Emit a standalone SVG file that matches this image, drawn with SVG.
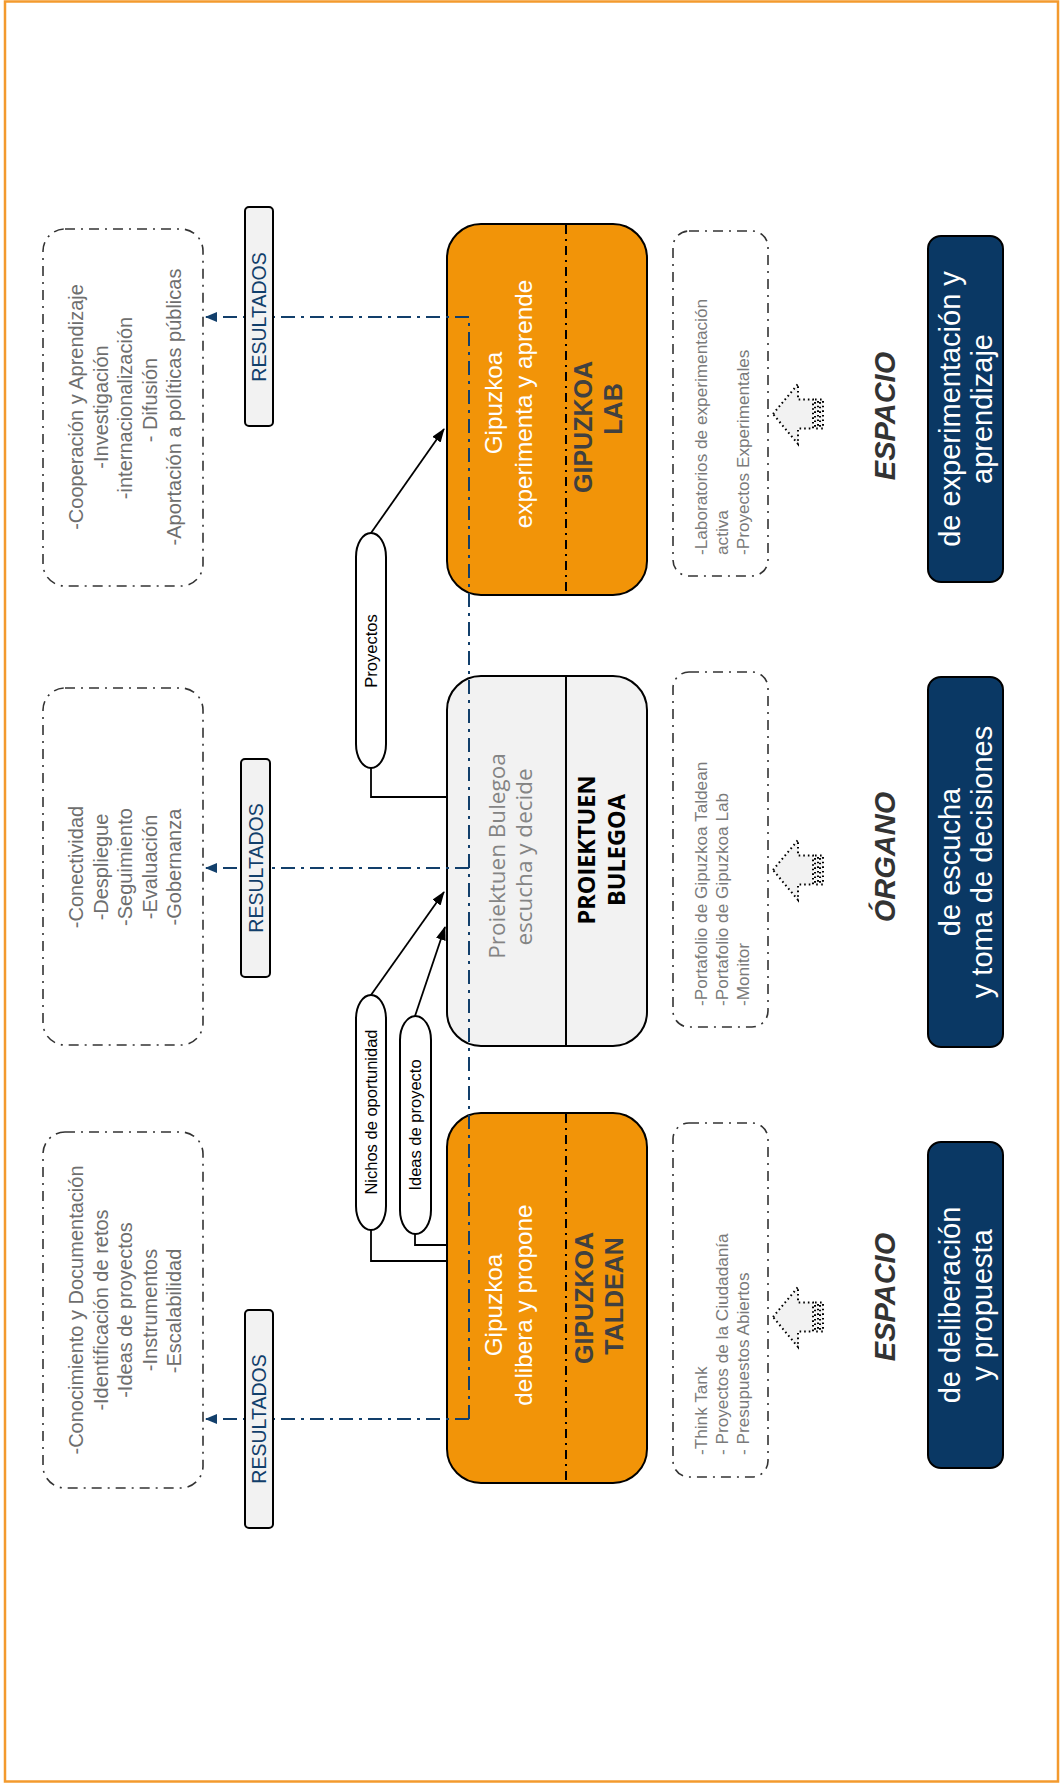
<svg xmlns="http://www.w3.org/2000/svg" width="1061" height="1786" viewBox="0 0 1061 1786">
<defs>
<marker id="ah" markerUnits="userSpaceOnUse" markerWidth="14" markerHeight="10" refX="13" refY="5" orient="auto"><path d="M0,0 L14,5 L0,10 z" fill="#000"/></marker>
<marker id="ahb" markerUnits="userSpaceOnUse" markerWidth="12" markerHeight="10" refX="11" refY="5" orient="auto"><path d="M0,0 L12,5 L0,10 z" fill="#123f6b"/></marker>
<style>
.t{font-family:"Liberation Sans",Arial,sans-serif}
.o{font-family:"Open Sans","Liberation Sans",sans-serif}
.main{fill:#f29408;stroke:#000;stroke-width:2}
.grey{fill:#f2f2f2;stroke:#000;stroke-width:2}
.dd{fill:none;stroke:#333;stroke-width:1.6;stroke-dasharray:10 6 2 6}
.div{stroke:#000;stroke-width:2;stroke-dasharray:9 5 2 5}
.res{fill:#f2f2f2;stroke:#000;stroke-width:2}
.rest{font-size:19.5px;fill:#123f6b}
.lt{font-size:20px;fill:#6e6e6e}
.rt{font-size:17.2px;fill:#7a7a7a}
.wh{font-size:24.3px;fill:#fff}
.bd{font-size:25px;fill:#404040;font-weight:bold}
.nv{fill:#0a3864;stroke:#000;stroke-width:2}
.nvt{font-size:29px;fill:#fff}
.hd{font-size:29px;fill:#333;font-weight:bold;font-style:italic}
.ov{fill:#fff;stroke:#000;stroke-width:2}
.ovt{font-size:16.5px;fill:#000}
.ln{fill:none;stroke:#000;stroke-width:1.8}
.nav{fill:none;stroke:#123f6b;stroke-width:2;stroke-dasharray:14 6 3 6}
.blk{fill:#f2f2f2;stroke:#000;stroke-width:2;stroke-dasharray:1.6 3}
</style>
</defs>
<rect x="5" y="1.5" width="1053" height="1780" fill="#fff" stroke="#f39a2e" stroke-width="2.5"/>

<g id="resultados-1"><rect class="dd" x="43" y="229" width="160" height="357" rx="22"/>
<text class="t lt" text-anchor="middle" transform="translate(83,407) rotate(-90)">-Cooperación y Aprendizaje</text>
<text class="t lt" text-anchor="middle" transform="translate(108,407) rotate(-90)">-Investigación</text>
<text class="t lt" text-anchor="middle" transform="translate(132,408) rotate(-90)">-internacionalización</text>
<text class="t lt" text-anchor="middle" transform="translate(157,400) rotate(-90)">- Difusión</text>
<text class="t lt" text-anchor="middle" transform="translate(181,407) rotate(-90)">-Aportación a políticas públicas</text>
</g>
<g id="resultados-2"><rect class="dd" x="43" y="688" width="160" height="357" rx="22"/>
<text class="t lt" text-anchor="middle" transform="translate(83,867) rotate(-90)">-Conectividad</text>
<text class="t lt" text-anchor="middle" transform="translate(108,867) rotate(-90)">-Despliegue</text>
<text class="t lt" text-anchor="middle" transform="translate(132,867) rotate(-90)">-Seguimiento</text>
<text class="t lt" text-anchor="middle" transform="translate(157,867) rotate(-90)">-Evaluación</text>
<text class="t lt" text-anchor="middle" transform="translate(181,867) rotate(-90)">-Gobernanza</text>
</g>
<g id="resultados-3"><rect class="dd" x="43" y="1132" width="160" height="356" rx="22"/>
<text class="t lt" text-anchor="middle" transform="translate(83,1310) rotate(-90)">-Conocimiento y Documentación</text>
<text class="t lt" text-anchor="middle" transform="translate(108,1310) rotate(-90)">-Identificación de retos</text>
<text class="t lt" text-anchor="middle" transform="translate(132,1310) rotate(-90)">-Ideas de proyectos</text>
<text class="t lt" text-anchor="middle" transform="translate(157,1310) rotate(-90)">-Instrumentos</text>
<text class="t lt" text-anchor="middle" transform="translate(181,1311) rotate(-90)">-Escalabilidad</text>
</g>

<g id="oval-proyectos"><rect class="ov" x="356" y="533" width="30" height="235" rx="15" ry="24"/>
<text class="t ovt" text-anchor="middle" transform="translate(377,651) rotate(-90)">Proyectos</text></g>
<g id="oval-nichos"><rect class="ov" x="356" y="995" width="30" height="235" rx="15" ry="24"/>
<text class="t ovt" text-anchor="middle" transform="translate(377,1112) rotate(-90)">Nichos de oportunidad</text></g>
<g id="oval-ideas"><rect class="ov" x="400" y="1016" width="31" height="218" rx="15.5" ry="24"/>
<text class="t ovt" text-anchor="middle" transform="translate(421,1125) rotate(-90)">Ideas de proyecto</text></g>

<g id="gipuzkoa-lab"><rect class="main" x="447" y="224" width="200" height="371" rx="34"/>
<line class="div" x1="566" y1="225" x2="566" y2="594"/>
<text class="t wh" text-anchor="middle" transform="translate(502,403) rotate(-90)">Gipuzkoa</text>
<text class="t wh" text-anchor="middle" transform="translate(532,404) rotate(-90)">experimenta y aprende</text>
<text class="t bd" text-anchor="middle" transform="translate(592,427) rotate(-90)">GIPUZKOA</text>
<text class="t bd" text-anchor="middle" transform="translate(622,409) rotate(-90)">LAB</text>
</g>
<g id="proiektuen-bulegoa"><rect class="grey" x="447" y="676" width="200" height="370" rx="34"/>
<line x1="566" y1="677" x2="566" y2="1045" stroke="#000" stroke-width="2"/>
<text class="o" font-size="22.5" fill="#848484" text-anchor="middle" transform="translate(505,856) rotate(-90)">Proiektuen Bulegoa</text>
<text class="o" font-size="22.5" fill="#848484" text-anchor="middle" transform="translate(532,857) rotate(-90)">escucha y decide</text>
<text class="o" font-size="23.5" font-weight="bold" fill="#000" text-anchor="middle" transform="translate(595,850) rotate(-90)">PROIEKTUEN</text>
<text class="o" font-size="23.5" font-weight="bold" fill="#000" text-anchor="middle" transform="translate(625,850) rotate(-90)">BULEGOA</text>
</g>
<g id="gipuzkoa-taldean"><rect class="main" x="447" y="1113" width="200" height="370" rx="34"/>
<line class="div" x1="566" y1="1114" x2="566" y2="1482"/>
<text class="t wh" text-anchor="middle" transform="translate(502,1305) rotate(-90)">Gipuzkoa</text>
<text class="t wh" text-anchor="middle" transform="translate(532,1305) rotate(-90)">delibera y propone</text>
<text class="t bd" text-anchor="middle" transform="translate(593,1298) rotate(-90)">GIPUZKOA</text>
<text class="t bd" text-anchor="middle" transform="translate(623,1296) rotate(-90)">TALDEAN</text>
</g>

<g id="connectors">
<path class="nav" d="M469,1419 L469,317"/>
<path class="nav" d="M469,317 L206,317" marker-end="url(#ahb)"/>
<path class="nav" d="M469,868 L206,868" marker-end="url(#ahb)"/>
<path class="nav" d="M469,1419 L206,1419" marker-end="url(#ahb)"/>
<path class="ln" d="M371,533 L444,429" marker-end="url(#ah)"/>
<path class="ln" d="M371,995 L444,892" marker-end="url(#ah)"/>
<path class="ln" d="M415,1016 L445,927" marker-end="url(#ah)"/>
<path class="ln" d="M371,768 L371,797 L447,797"/>
<path class="ln" d="M371,1230 L371,1261 L447,1261"/>
<path class="ln" d="M415,1234 L415,1245 L447,1245"/>
</g>

<g id="label-resultados-1"><rect class="res" x="245" y="207" width="28" height="219" rx="4"/>
<text class="t rest" text-anchor="middle" transform="translate(266,317) rotate(-90)">RESULTADOS</text></g>
<g id="label-resultados-2"><rect class="res" x="241" y="759" width="29" height="218" rx="4"/>
<text class="t rest" text-anchor="middle" transform="translate(263,868) rotate(-90)">RESULTADOS</text></g>
<g id="label-resultados-3"><rect class="res" x="245" y="1310" width="28" height="218" rx="4"/>
<text class="t rest" text-anchor="middle" transform="translate(266,1419) rotate(-90)">RESULTADOS</text></g>

<g id="inputs-lab"><rect class="dd" x="673" y="231" width="95" height="345" rx="16"/>
<text class="t rt" transform="translate(707,555) rotate(-90)">-Laboratorios de experimentación</text>
<text class="t rt" transform="translate(728,555) rotate(-90)">activa</text>
<text class="t rt" transform="translate(749,555) rotate(-90)">-Proyectos Experimentales</text>
</g>
<g id="inputs-bulegoa"><rect class="dd" x="673" y="672" width="95" height="355" rx="16"/>
<text class="t rt" transform="translate(707,1006) rotate(-90)">-Portafolio de Gipuzkoa Taldean</text>
<text class="t rt" transform="translate(728,1006) rotate(-90)">-Portafolio de Gipuzkoa Lab</text>
<text class="t rt" transform="translate(749,1006) rotate(-90)">-Monitor</text>
</g>
<g id="inputs-taldean"><rect class="dd" x="673" y="1123" width="95" height="354" rx="16"/>
<text class="t rt" transform="translate(707,1455) rotate(-90)">-Think Tank</text>
<text class="t rt" transform="translate(728,1455) rotate(-90)">- Proyectos de la Ciudadanía</text>
<text class="t rt" transform="translate(749,1455) rotate(-90)">- Presupuestos Abiertos</text>
</g>

<g id="arrow-lab"><path class="blk" d="M773,414 L798,384 L798,399.5 L813,399.5 L813,428.5 L798,428.5 L798,444 Z"/><rect class="blk" x="815" y="399.5" width="3" height="29"/><rect class="blk" x="820" y="399.5" width="3" height="29"/></g>
<g id="arrow-bulegoa"><path class="blk" d="M773,870 L798,840 L798,855.5 L813,855.5 L813,884.5 L798,884.5 L798,900 Z"/><rect class="blk" x="815" y="855.5" width="3" height="29"/><rect class="blk" x="820" y="855.5" width="3" height="29"/></g>
<g id="arrow-taldean"><path class="blk" d="M773,1317 L798,1287 L798,1302.5 L813,1302.5 L813,1331.5 L798,1331.5 L798,1347 Z"/><rect class="blk" x="815" y="1302.5" width="3" height="29"/><rect class="blk" x="820" y="1302.5" width="3" height="29"/></g>

<g id="title-lab"><text class="t hd" text-anchor="middle" transform="translate(895,416) rotate(-90)">ESPACIO</text></g>
<g id="title-bulegoa"><text class="t hd" text-anchor="middle" transform="translate(895,857) rotate(-90)">ÓRGANO</text></g>
<g id="title-taldean"><text class="t hd" text-anchor="middle" transform="translate(895,1297) rotate(-90)">ESPACIO</text></g>

<g id="desc-lab"><rect class="nv" x="928" y="236" width="75" height="346" rx="13"/>
<text class="t nvt" text-anchor="middle" transform="translate(960,409) rotate(-90)">de experimentación y</text>
<text class="t nvt" text-anchor="middle" transform="translate(992,409) rotate(-90)">aprendizaje</text></g>
<g id="desc-bulegoa"><rect class="nv" x="928" y="677" width="75" height="370" rx="13"/>
<text class="t nvt" text-anchor="middle" transform="translate(960,862) rotate(-90)">de escucha</text>
<text class="t nvt" text-anchor="middle" transform="translate(992,862) rotate(-90)">y toma de decisiones</text></g>
<g id="desc-taldean"><rect class="nv" x="928" y="1142" width="75" height="326" rx="13"/>
<text class="t nvt" text-anchor="middle" transform="translate(960,1305) rotate(-90)">de deliberación</text>
<text class="t nvt" text-anchor="middle" transform="translate(992,1305) rotate(-90)">y propuesta</text></g>
</svg>
